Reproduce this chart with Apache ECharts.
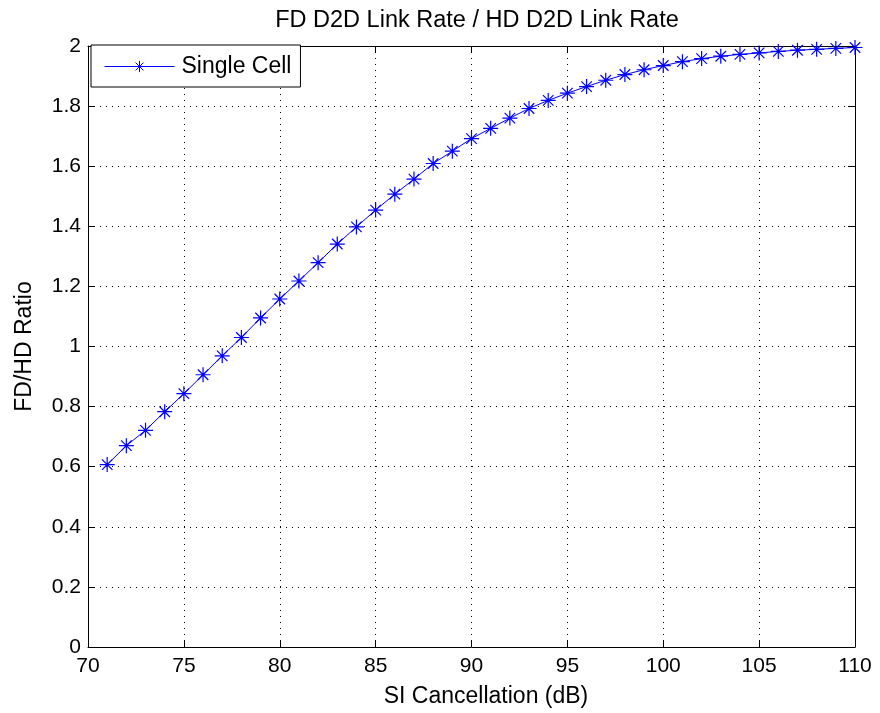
<!DOCTYPE html>
<html>
<head>
<meta charset="utf-8">
<script src="https://cdn.jsdelivr.net/npm/echarts@6/dist/echarts.min.js"></script>
<style>html,body{margin:0;padding:0;background:#fff}#c{width:880px;height:713px}</style>
</head>
<body>
<div id="c"></div>
<script>
const siCancellation = [71,72,73,74,75,76,77,78,79,80,81,82,83,84,85,86,87,88,89,90,91,92,93,94,95,96,97,98,99,100,101,102,103,104,105,106,107,108,109,110];
const singleCell = [0.607,0.670,0.721,0.783,0.843,0.906,0.969,1.030,1.095,1.158,1.218,1.279,1.341,1.398,1.454,1.507,1.557,1.609,1.650,1.692,1.726,1.760,1.792,1.819,1.843,1.865,1.886,1.905,1.921,1.935,1.948,1.958,1.966,1.972,1.977,1.982,1.986,1.989,1.992,1.995];
const xTicks = {min:70, max:110, interval:5};
const yTicks = {min:0, max:2, interval:0.2};

const FONT = 'Liberation Sans, Arial, Helvetica, sans-serif';
const star = 'path://M5,0L5,10M0,5L10,5M1.5,1.5L8.5,8.5M1.5,8.5L8.5,1.5';
const chart = echarts.init(document.getElementById('c'), null, {renderer:'canvas'});
const axisCommon = {
  axisLine:{show:true, onZero:false, lineStyle:{color:'#000', width:1}},
  axisTick:{show:true, inside:true, length:7, lineStyle:{color:'#000'}},
};
chart.setOption({
  animation:false,
  backgroundColor:'#fff',
  title:{text:'FD D2D Link Rate / HD D2D Link Rate', left:472, textAlign:'center', top:4,
    textStyle:{fontFamily:FONT, fontSize:23.5, fontWeight:'normal', color:'#000'}},
  grid:{left:88, right:25, top:46, bottom:65, containLabel:false},
  legend:{left:91, top:45, orient:'vertical', backgroundColor:'#fff', borderColor:'#000', borderWidth:1, borderRadius:0,
    padding:[10,9,9,13], itemWidth:70, itemHeight:14, itemGap:5,
    lineStyle:{width:1},
    itemStyle:{borderWidth:1},
    textStyle:{fontFamily:FONT, fontSize:23, color:'#000', padding:[0,0,0,2]},
    data:['Single Cell']},
  xAxis:[
    Object.assign({type:'value', position:'bottom', min:xTicks.min, max:xTicks.max, interval:xTicks.interval,
      name:'SI Cancellation (dB)', nameLocation:'middle', nameGap:38,
      nameTextStyle:{fontFamily:FONT, fontSize:23, color:'#000', padding:[0,0,0,29]},
      axisLabel:{fontFamily:FONT, fontSize:21, color:'#000', margin:9},
      splitLine:{show:true, lineStyle:{color:'#000', type:[1,5], width:1}}}, axisCommon),
    Object.assign({type:'value', position:'top', min:xTicks.min, max:xTicks.max, interval:xTicks.interval,
      axisLabel:{show:false}, splitLine:{show:false}}, axisCommon)
  ],
  yAxis:[
    Object.assign({type:'value', position:'left', min:yTicks.min, max:yTicks.max, interval:yTicks.interval,
      name:'FD/HD Ratio', nameLocation:'middle', nameGap:52, nameRotate:90,
      nameTextStyle:{fontFamily:FONT, fontSize:23, color:'#000'},
      axisLabel:{fontFamily:FONT, fontSize:21, color:'#000', margin:7, formatter:v=>String(Math.round(v*10)/10)},
      splitLine:{show:true, lineStyle:{color:'#000', type:[1,5], width:1}}}, axisCommon),
    Object.assign({type:'value', position:'right', min:yTicks.min, max:yTicks.max, interval:yTicks.interval,
      axisLabel:{show:false}, splitLine:{show:false}}, axisCommon)
  ],
  series:[{
    name:'Single Cell', type:'line', xAxisIndex:0, yAxisIndex:0,
    data:siCancellation.map((x,i)=>[x, singleCell[i]]),
    symbol:star, symbolSize:15, showAllSymbol:true,
    lineStyle:{color:'#0000ff', width:1},
    itemStyle:{color:'#0000ff', borderColor:'#0000ff', borderWidth:1.2},
    z:5
  }]
});
</script>
</body>
</html>
